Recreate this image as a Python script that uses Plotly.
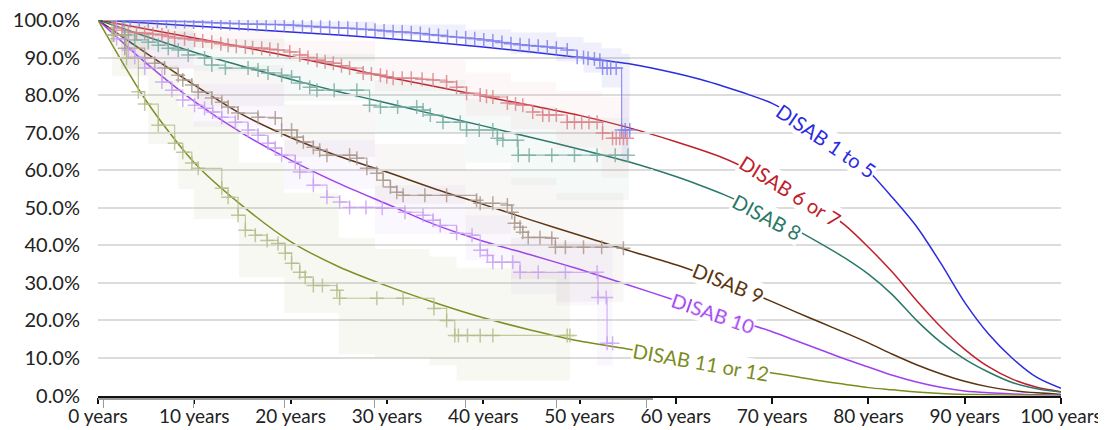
import plotly.graph_objects as go

# ---------------- data ----------------
groups = ["DISAB 1 to 5", "DISAB 6 or 7", "DISAB 8", "DISAB 9", "DISAB 10", "DISAB 11 or 12"]

# fitted survival curves (years), percent
fit_years = [0, 5, 10, 15, 20, 25, 30, 35, 40, 45, 50, 55, 60, 62.5, 65, 67.5, 70, 72.5, 75, 77.5, 80,
             82.5, 85, 87.5, 90, 92.5, 95, 97.5, 100]
fit_1to5 = [100, 99.2, 98.4, 97.6, 96.8, 96.0, 95.1, 94.0, 92.8, 91.5, 90.0, 88.4, 85.8, 84.2, 82.3, 80.2, 77.8,
            74.2, 69.8, 65.0, 59.8, 52.7, 45.0, 35.3, 24.8, 16.3, 9.8, 4.8, 1.9]
fit_6or7 = [100, 97.6, 95.2, 92.8, 90.3, 87.6, 84.8, 82.3, 79.7, 77.2, 74.6, 71.4, 67.6, 65.5, 63.2, 60.3, 57.2,
            53.8, 50.0, 45.5, 39.5, 32.8, 25.3, 18.3, 12.3, 7.6, 4.3, 2.2, 1.0]
fit_8 = [100, 95.6, 91.4, 87.7, 84.2, 80.9, 77.9, 74.8, 71.8, 68.7, 65.6, 62.3, 58.3, 56.0, 53.5, 50.6, 47.4,
         44.1, 40.5, 36.7, 32.3, 26.8, 20.0, 14.2, 9.7, 6.2, 3.4, 1.8, 0.9]
fit_9 = [100, 91.2, 82.7, 74.8, 68.7, 63.7, 59.5, 55.0, 50.9, 46.7, 42.7, 38.7, 34.8, 32.6, 30.3, 27.7, 25.0,
         22.2, 19.5, 16.8, 14.0, 11.0, 8.2, 5.8, 3.8, 2.3, 1.3, 0.7, 0.3]
fit_10 = [100, 88.5, 78.3, 69.8, 62.7, 56.5, 51.0, 45.5, 41.1, 37.4, 33.6, 29.5, 25.3, 23.2, 21.2, 19.1, 17.0,
          14.6, 12.2, 9.8, 7.6, 5.4, 3.6, 2.2, 1.2, 0.7, 0.4, 0.2, 0.1]
fit_11or12 = [100, 78.5, 62.0, 50.5, 41.0, 34.3, 29.2, 24.7, 20.7, 17.4, 14.5, 12.4, 10.3, 9.3, 8.2, 7.1, 6.0,
              5.0, 3.9, 3.0, 2.1, 1.5, 0.9, 0.5, 0.3, 0.2, 0.1, 0.05, 0.0]

# Kaplan-Meier estimates (years, percent)
km_t_1to5 = [0, 1.5, 2.2, 3, 4, 5, 6, 7, 8, 9, 10, 11, 12, 13, 14, 15, 16, 17, 18, 19, 20, 21, 22, 23, 24, 25, 26, 27, 28, 29, 30, 31, 32, 33, 34, 35, 36, 37, 38, 39, 40, 41, 42, 43, 44, 45, 46, 47, 48, 49, 50, 51.2, 52.3, 53, 53.5, 54.2, 54.8, 55.1, 55.6, 56, 56.6, 57.2, 57.6, 58.1]
km_s_1to5 = [100, 100, 99.9, 99.9, 99.8, 99.8, 99.7, 99.7, 99.6, 99.6, 99.5, 99.4, 99.3, 99.2, 99.1, 99.0, 98.9, 98.9, 98.8, 98.8, 98.7, 98.6, 98.4, 98.3, 98.1, 98.0, 97.9, 97.8, 97.6, 97.5, 97.3, 97.1, 96.9, 96.8, 96.6, 96.4, 96.1, 95.9, 95.6, 95.4, 95.2, 95.0, 94.7, 94.4, 94.0, 93.7, 93.4, 93.2, 93.0, 92.8, 92.5, 92.0, 90.1, 90.0, 89.8, 89.6, 89.3, 87.2, 87.2, 87.2, 87.2, 70.7, 70.7, 70.7]
km_t_6or7 = [0, 1.3, 2.1, 2.8, 3.7, 4.6, 5.5, 6.5, 7.2, 7.9, 9, 10.1, 11, 12, 13, 13.8, 14.7, 15.7, 16.5, 17.5, 18.4, 19.3, 20.6, 21.7, 22.6, 23.6, 24.5, 25.4, 26.3, 27.2, 28.7, 29.6, 30.6, 31.3, 32, 33, 34, 35.2, 36.4, 37.9, 39, 40.1, 41.6, 42.3, 43, 44.6, 45.5, 46.3, 47.4, 48.5, 49.2, 50, 51.2, 52, 52.8, 53.6, 54.5, 55.1, 56.2, 56.6, 57, 57.4, 57.8]
km_s_6or7 = [100, 97.9, 97.3, 96.8, 96.6, 96.5, 96.2, 96, 95.6, 95.2, 95.0, 94.7, 94.4, 94.1, 93.7, 93.3, 93.0, 92.8, 92.6, 92.5, 92.2, 92, 91.5, 90.7, 90.0, 89.3, 88.9, 88.5, 87.8, 87.2, 85.9, 85.6, 85.3, 84.9, 84.5, 84.5, 84.5, 84.2, 84, 83.5, 82.1, 80.5, 80, 79.7, 79.5, 77.9, 77.6, 77.3, 75.5, 74.7, 74.7, 74.7, 72.8, 72.8, 72.8, 72.8, 72.8, 69.9, 68.5, 68.5, 68.5, 68.5, 68.5]
km_t_8 = [0, 2.4, 3.5, 5, 6.1, 7.2, 8.3, 9.4, 11.2, 12, 13.5, 16, 17.1, 18.2, 19.7, 20.8, 21.7, 22.8, 23.6, 25.5, 28, 29.4, 30.6, 32.5, 34.6, 35.3, 36.1, 37.5, 39.4, 40.1, 41.5, 43, 43.5, 44.1, 45.7, 45.8, 47, 49.5, 52, 54.5, 56.5, 57.9]
km_s_8 = [100, 96, 94.7, 94.1, 93.3, 92.5, 92, 90.7, 89.9, 88, 87.2, 87.2, 86.7, 85.9, 85.3, 84.8, 83.2, 82.1, 81.3, 81.3, 81.3, 77.3, 76.8, 76.8, 76.8, 76, 74.7, 72.8, 72.8, 70.7, 70.7, 70.7, 68.5, 68, 68, 64, 64, 64, 64, 64, 64, 64]
km_t_9 = [0, 1.2, 2.4, 4.6, 5.7, 6.8, 8.3, 8.8, 9.8, 10.5, 12, 13.1, 13.8, 14.9, 17.1, 19, 19.7, 20.8, 21.4, 22.1, 23.2, 23.9, 24.7, 27.2, 28, 29.1, 30.2, 30.9, 31.7, 32.4, 33.1, 35.5, 37.9, 41.2, 41.6, 43, 44.6, 45.1, 45.4, 46, 46.3, 46.9, 48.2, 49.5, 49.9, 51, 53, 55, 57.4]
km_s_9 = [100, 96, 92.5, 89.9, 88.5, 87.2, 85.3, 84, 82.7, 80.8, 79.2, 78.1, 76.8, 75.2, 74.1, 73.9, 70.7, 70.7, 68.8, 67.5, 66.1, 65.3, 64, 64, 63.2, 60.5, 59.2, 57.3, 55.5, 54.1, 53.3, 53.3, 53.3, 52, 51.2, 51.2, 50.7, 48.8, 45.9, 44.8, 43.5, 42.1, 42.1, 41.9, 39.5, 39.5, 39.5, 39.5, 39.2]
km_t_10 = [0, 1.5, 2.8, 3.5, 4.6, 6.5, 7.6, 8.8, 10.1, 11.2, 12.1, 13.1, 14.6, 16, 17.1, 18.2, 19, 19.7, 21.2, 21.7, 23.2, 24.7, 26.1, 27.2, 29, 30.8, 33.3, 35.3, 36.4, 37.2, 39, 40.7, 41.6, 42.4, 43, 44, 45.2, 46, 48, 51, 54.5, 54.6, 55.5, 55.6, 56.2]
km_s_10 = [100, 95, 92, 90.1, 87.2, 83.5, 81.3, 78.7, 77.3, 76.5, 75.5, 74.1, 72.8, 70.7, 69.3, 67.2, 65.9, 64, 62.1, 59.5, 56, 52.8, 51.5, 50.1, 50.1, 49.9, 48.8, 48, 46.7, 45.3, 43.2, 42.7, 38.7, 37.3, 35.5, 35.5, 35.5, 32.8, 32.8, 32.8, 32.8, 26.1, 26.1, 13.9, 13.9]
km_t_11or12 = [0, 1, 2.6, 3.9, 4.6, 6.1, 7.9, 8.8, 9.8, 10.5, 13.1, 13.8, 14.9, 15.7, 16.8, 18.1, 19.3, 20.1, 20.8, 21.7, 22.3, 23.2, 24.2, 25.8, 26.1, 30.2, 33.1, 36.5, 37.9, 38.8, 39.2, 40.2, 41.6, 43, 51.2, 51.5]
km_s_11or12 = [100, 96, 89.8, 80.9, 77.6, 72, 67.2, 64.8, 61.9, 60.5, 55.2, 52.8, 48, 44, 42.7, 41.3, 40.5, 37.9, 35.2, 32.8, 31.5, 29.3, 29.3, 28, 25.9, 25.9, 25.9, 23.2, 20, 16, 16, 16, 16, 16, 16, 16]

# confidence bands of the KM estimates (years, lower %, upper %)
ci_t_1to5 = [0, 2, 10, 20, 30, 40, 45, 50, 53, 55, 57.2, 58.1]
ci_lo_1to5 = [100, 99.5, 98.8, 97.7, 95.8, 92.8, 91, 89, 86, 82, 62, 62]
ci_hi_1to5 = [100, 100, 100, 99.6, 98.8, 97.5, 96.7, 95.5, 94, 92.5, 91, 91]
ci_t_6or7 = [0, 2, 10, 20, 30, 40, 45, 50, 55, 58]
ci_lo_6or7 = [100, 95.5, 92.5, 89, 81, 74.5, 71, 66, 58, 56]
ci_hi_6or7 = [100, 99.5, 97, 94.5, 89.5, 86, 83.5, 81, 79.5, 79.5]
ci_t_8 = [0, 2, 10, 20, 30, 40, 45, 50, 58]
ci_lo_8 = [100, 92, 86.5, 78.5, 70, 62, 56, 52, 50]
ci_hi_8 = [100, 99, 95, 91, 84, 79, 77, 74, 74]
ci_t_9 = [0, 2, 10, 20, 30, 40, 45, 50, 57.4]
ci_lo_9 = [100, 87, 77, 63.5, 51, 43, 31, 25, 24]
ci_hi_9 = [100, 97, 88, 77.5, 67, 60, 58, 54, 53]
ci_t_10 = [0, 2, 10, 20, 30, 40, 45, 50, 54.5, 56.2]
ci_lo_10 = [100, 87, 71.5, 55, 43, 36, 27, 24, 8, 3]
ci_hi_10 = [100, 96.5, 83, 68, 56, 48, 42, 41, 40, 36]
ci_t_11or12 = [0, 1, 5, 8.3, 10, 15, 20, 26, 30, 36, 39, 45, 51.5]
ci_lo_11or12 = [100, 85, 67, 55, 47, 31.5, 22, 11, 10, 8, 4, 4, 4]
ci_hi_11or12 = [100, 99.5, 88, 77, 73, 62, 54, 42, 39, 37, 34, 33, 33]

y_ticks = [0, 10, 20, 30, 40, 50, 60, 70, 80, 90, 100]
x_ticks = [0, 10, 20, 30, 40, 50, 60, 70, 80, 90, 100]
km_x_ticks = [0, 10, 20, 30, 40, 50, 60]

# ---------------- styles ----------------
line_colors = ["#2b2be0", "#c0202c", "#2a7868", "#5a3410", "#a040f0", "#7b8c1c"]
km_colors = ["#7c7cec", "#da8088", "#78ac9f", "#a8958a", "#c8a0f2", "#b3bc88"]
band_colors = ["rgba(110,110,235,0.10)", "rgba(225,120,120,0.06)", "rgba(90,170,150,0.06)",
               "rgba(150,120,100,0.06)", "rgba(175,120,235,0.06)", "rgba(190,190,130,0.10)"]
label_pos = [(75.7, 67.9, 34), (71.9, 54.5, 32), (69.5, 47.6, 28), (65.5, 29.9, 22), (63.9, 21.9, 19), (62.6, 8.8, 10)]

fits = [fit_1to5, fit_6or7, fit_8, fit_9, fit_10, fit_11or12]
kms = [(km_t_1to5, km_s_1to5), (km_t_6or7, km_s_6or7), (km_t_8, km_s_8), (km_t_9, km_s_9),
       (km_t_10, km_s_10), (km_t_11or12, km_s_11or12)]
cis = [(ci_t_1to5, ci_lo_1to5, ci_hi_1to5), (ci_t_6or7, ci_lo_6or7, ci_hi_6or7), (ci_t_8, ci_lo_8, ci_hi_8),
       (ci_t_9, ci_lo_9, ci_hi_9), (ci_t_10, ci_lo_10, ci_hi_10), (ci_t_11or12, ci_lo_11or12, ci_hi_11or12)]

fig = go.Figure()

# confidence bands
for i, (t, lo, hi) in enumerate(cis):
    fig.add_trace(go.Scatter(x=t, y=lo, xaxis="x2", yaxis="y", mode="lines", line=dict(width=0, shape="hv"),
                             hoverinfo="skip", showlegend=False))
    fig.add_trace(go.Scatter(x=t, y=hi, xaxis="x2", yaxis="y", mode="lines", line=dict(width=0, shape="hv"),
                             fill="tonexty", fillcolor=band_colors[i], hoverinfo="skip", showlegend=False))

# KM step curves with censor marks
for i, (t, s) in enumerate(kms):
    fig.add_trace(go.Scatter(x=t[1:], y=s[1:], xaxis="x2", yaxis="y", mode="markers",
                             marker=dict(symbol="cross-thin", size=10, line=dict(width=1.5, color=km_colors[i])),
                             opacity=0.8, showlegend=False, hoverinfo="skip"))
    fig.add_trace(go.Scatter(x=t, y=s, xaxis="x2", yaxis="y", mode="lines",
                             line=dict(color=km_colors[i], width=1.2, shape="hv"),
                             opacity=0.8, showlegend=False, hoverinfo="skip"))

# fitted curves
for i, f in enumerate(fits):
    fig.add_trace(go.Scatter(x=fit_years, y=f, xaxis="x", yaxis="y", mode="lines",
                             line=dict(color=line_colors[i], width=1.5, shape="spline", smoothing=0.8),
                             name=groups[i], showlegend=False))

for i, g in enumerate(groups):
    x, y, ang = label_pos[i]
    fig.add_annotation(x=x, y=y, xref="x", yref="y", text=g, showarrow=False, textangle=ang,
                       font=dict(family="Lato", size=20, color=line_colors[i]),
                       bgcolor="white", borderpad=0)

# the page body adds an 8px offset, so the figure is 8px smaller and margins shifted
fig.update_layout(
    width=1098, height=422,
    margin=dict(l=90, r=45, t=12, b=31, pad=0, autoexpand=False),
    plot_bgcolor="rgba(0,0,0,0)", paper_bgcolor="white",
    font=dict(family="Lato", size=20, color="#222222"),
    showlegend=False,
    xaxis=dict(domain=[0, 1], range=[0, 100], anchor="y", tickmode="array", tickvals=x_ticks, automargin=False,
               ticktext=[f"{v} years" for v in x_ticks], showline=True, linecolor="#111111", linewidth=2,
               ticks="outside", ticklen=6, tickwidth=1.5, tickcolor="#111111", showgrid=False, zeroline=False,
               tickfont=dict(size=19), ticklabelstandoff=-3, ticklabeloverflow="allow"),
    xaxis2=dict(domain=[0, 0.5763], range=[-0.551, 60.66], anchor="free", position=0, tickmode="array",
                tickvals=km_x_ticks, showticklabels=False, showline=True, linecolor="#999999", linewidth=1.5,
                automargin=False, ticks="outside", ticklen=8, tickwidth=1.2, tickcolor="#999999",
                showgrid=False, zeroline=False),
    yaxis=dict(domain=[0.00923, 1], range=[0, 100], tickmode="array", tickvals=y_ticks, automargin=False,
               ticktext=[f"{v:.1f}%" for v in y_ticks], showgrid=True, gridcolor="#dcdcdc", gridwidth=1.5,
               zeroline=False, showline=False, ticks="", ticklabelstandoff=17, ticklabeloverflow="allow"),
)

fig.write_html("out.html")
